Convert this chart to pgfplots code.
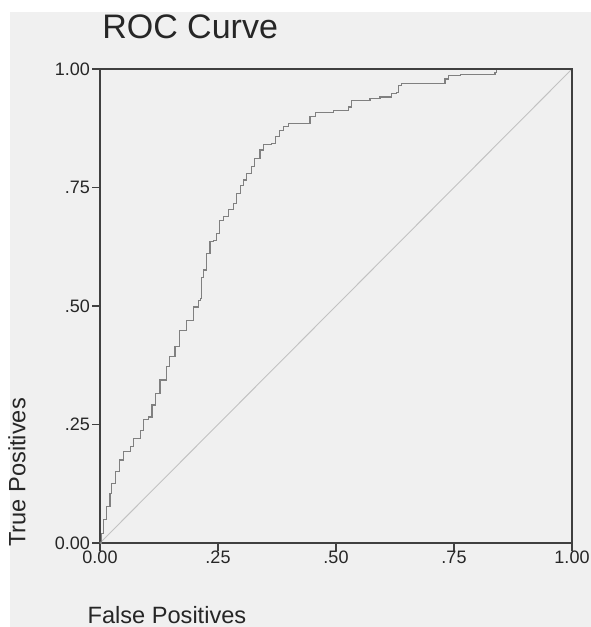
\documentclass[border=0pt]{standalone}
\usepackage{fontspec}
\setmainfont{Liberation Sans}
\usepackage{pgfplots}
\pgfplotsset{compat=1.18}
\definecolor{paper}{gray}{0.94}
\definecolor{axisgray}{gray}{0.25}
\definecolor{curvegray}{gray}{0.5}
\definecolor{diaggray}{gray}{0.76}
\begin{document}
\begin{tikzpicture}
% page frame: 591x627 px at 0.75pt/px
\useasboundingbox (-75pt,-63pt) rectangle (368.25pt,407.25pt);
\fill[paper] (-67.5pt,-63pt) rectangle (368.25pt,398.25pt);
\begin{axis}[
	at={(0,0)}, anchor=south west,
	scale only axis,
	width=354pt,
	height=355.5pt,
	xmin=0, xmax=1,
	ymin=0, ymax=1,
	axis line style={axisgray, line width=1.1pt},
	tick style={axisgray, line width=1pt},
	tick align=outside,
	tick pos=left,
	major tick length=6pt,
	xtick={0,0.25,0.5,0.75,1},
	ytick={0,0.25,0.5,0.75,1},
	xticklabels={0.00,.25,.50,.75,1.00},
	yticklabels={0.00,.25,.50,.75,1.00},
	ticklabel style={font=\fontsize{13.5}{16}\selectfont, text=black!85},
	/pgf/number format/assume math mode=true,
	xticklabel style={yshift=3.5pt},
	yticklabel style={xshift=2pt},
	clip=false,
]
\addplot[diaggray, line width=0.7pt] coordinates {(0,0) (1,1)};
\addplot[curvegray, line width=0.9pt, const plot] coordinates {
(0,0) (0.004,0.02) (0.007,0.049) (0.014,0.077) (0.021,0.105) (0.025,0.126)
(0.032,0.15) (0.042,0.175) (0.049,0.193) (0.064,0.203) (0.071,0.221)
(0.085,0.238) (0.092,0.26) (0.102,0.266) (0.11,0.291) (0.117,0.316)
(0.127,0.344) (0.141,0.372) (0.148,0.393) (0.159,0.414) (0.169,0.449)
(0.184,0.470) (0.198,0.498) (0.208,0.511) (0.213,0.516) (0.215,0.56)
(0.219,0.576) (0.226,0.611) (0.233,0.636) (0.240,0.639) (0.247,0.653)
(0.254,0.681) (0.261,0.688) (0.272,0.703) (0.282,0.717) (0.290,0.738)
(0.297,0.755) (0.304,0.766) (0.311,0.780) (0.321,0.794) (0.328,0.812)
(0.339,0.829) (0.346,0.840) (0.364,0.843) (0.371,0.857) (0.381,0.871)
(0.388,0.878) (0.399,0.885) (0.441,0.885) (0.445,0.899) (0.456,0.909)
(0.494,0.913) (0.523,0.913) (0.526,0.920) (0.533,0.934) (0.565,0.934)
(0.572,0.938) (0.593,0.941) (0.618,0.948) (0.629,0.951) (0.632,0.965)
(0.639,0.969) (0.727,0.969) (0.731,0.979) (0.738,0.986) (0.763,0.989)
(0.833,0.989) (0.837,0.993) (0.84,1) (1,1)
};
% frame top and right
\draw[axisgray, line width=1.1pt] (rel axis cs:0,1) -- (rel axis cs:1,1) -- (rel axis cs:1,0);
% title and axis labels
\node[anchor=base west, font=\fontsize{25.5}{30}\selectfont, text=black!85, inner sep=0pt]
	at ([xshift=1.5pt, yshift=23pt]rel axis cs:0,1) {ROC Curve};
\node[anchor=base west, font=\fontsize{17.7}{21}\selectfont, text=black!85, inner sep=0pt]
	at ([xshift=-9.5pt, yshift=-60pt]rel axis cs:0,0) {False Positives};
\node[anchor=base west, rotate=90, font=\fontsize{17.7}{21}\selectfont, text=black!85, inner sep=0pt]
	at ([xshift=-56pt, yshift=-3pt]rel axis cs:0,0) {True Positives};
\end{axis}
\end{tikzpicture}
\end{document}
